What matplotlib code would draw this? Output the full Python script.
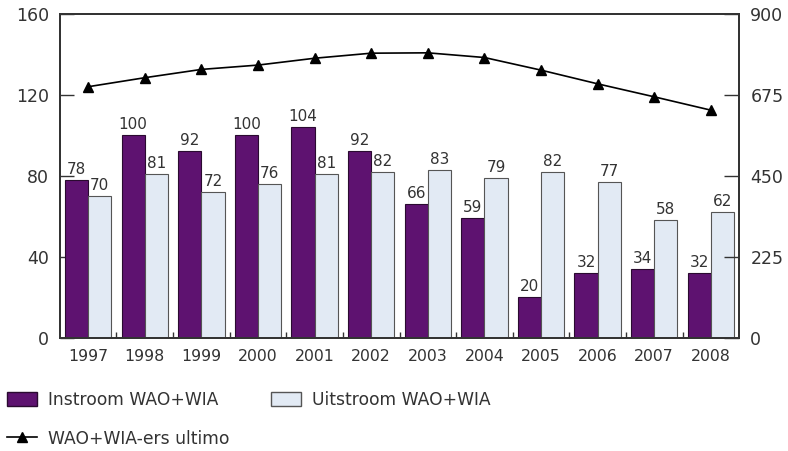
import matplotlib
matplotlib.use('Agg')
import matplotlib.pyplot as plt
import numpy as np
from matplotlib.patches import Patch
from matplotlib.lines import Line2D

# Data
years = ['1997', '1998', '1999', '2000', '2001', '2002',
         '2003', '2004', '2005', '2006', '2007', '2008']
instroom = [78, 100, 92, 100, 104, 92, 66, 59, 20, 32, 34, 32]
uitstroom = [70, 81, 72, 76, 81, 82, 83, 79, 82, 77, 58, 62]
ultimo = [697, 722, 745, 757, 776, 790, 791, 778, 743, 705, 669, 632]

left_ticks = [0, 40, 80, 120, 160]
right_ticks = [0, 225, 450, 675, 900]

plt.rcParams['font.family'] = ['DejaVu Sans']
text_col = '#333333'
purple = '#5e1270'
light = '#e2eaf4'

fig = plt.figure(figsize=(7.88, 4.51), dpi=100)
ax = fig.add_axes([0.076, 0.2505, 0.862, 0.7195])
ax2 = ax.twinx()

x = np.arange(len(years))
w = 0.41
b1 = ax.bar(x - w / 2, instroom, w, color=purple, edgecolor='#2a0a30', linewidth=0.8, zorder=2)
b2 = ax.bar(x + w / 2, uitstroom, w, color=light, edgecolor='#555555', linewidth=0.8, zorder=2)

# waarden boven de staven
for bars, vals in [(b1, instroom), (b2, uitstroom)]:
    for bar, v in zip(bars, vals):
        ax.text(bar.get_x() + bar.get_width() / 2, v + 1.5, str(v),
                ha='center', va='bottom', fontsize=11, color=text_col)

ax2.plot(x, ultimo, color='black', linewidth=1.2, marker='^', markersize=7, zorder=3)

ax.set_xlim(-0.5, len(years) - 0.5)
ax.set_ylim(0, 160)
ax2.set_ylim(0, 900)
ax.set_yticks(left_ticks)
ax2.set_yticks(right_ticks)
ax.set_xticks(x)
ax.set_xticklabels(years)
ax.set_xticks(x[:-1] + 0.5, minor=True)

ax.tick_params(axis='y', direction='in', length=10, width=1, color=text_col,
               labelsize=12.5, labelcolor=text_col, pad=8)
ax2.tick_params(axis='y', direction='in', length=11, width=1, color=text_col,
                labelsize=12.5, labelcolor=text_col, pad=8)
ax.tick_params(axis='x', which='major', length=0, labelsize=11.3, labelcolor=text_col, pad=8)
ax.tick_params(axis='x', which='minor', direction='in', length=4, width=1, color=text_col)

for a in (ax, ax2):
    for s in a.spines.values():
        s.set_color(text_col)
        s.set_linewidth(1.3)

handles = [Patch(facecolor=purple, edgecolor='#2a0a30'),
           Line2D([], [], color='black', marker='^', markersize=7, linewidth=1.2),
           Patch(facecolor=light, edgecolor='#555555')]
labels = ['Instroom WAO+WIA', 'WAO+WIA-ers ultimo', 'Uitstroom WAO+WIA']
fig.legend(handles, labels, ncol=2, loc='upper left', bbox_to_anchor=(0.009, 0.133),
           frameon=False, fontsize=12.3, labelcolor=text_col, handlelength=1.76,
           handleheight=0.9, handletextpad=0.65, columnspacing=2.4, labelspacing=1.2,
           borderaxespad=0, borderpad=0)

fig.savefig('out.png', dpi=100)
